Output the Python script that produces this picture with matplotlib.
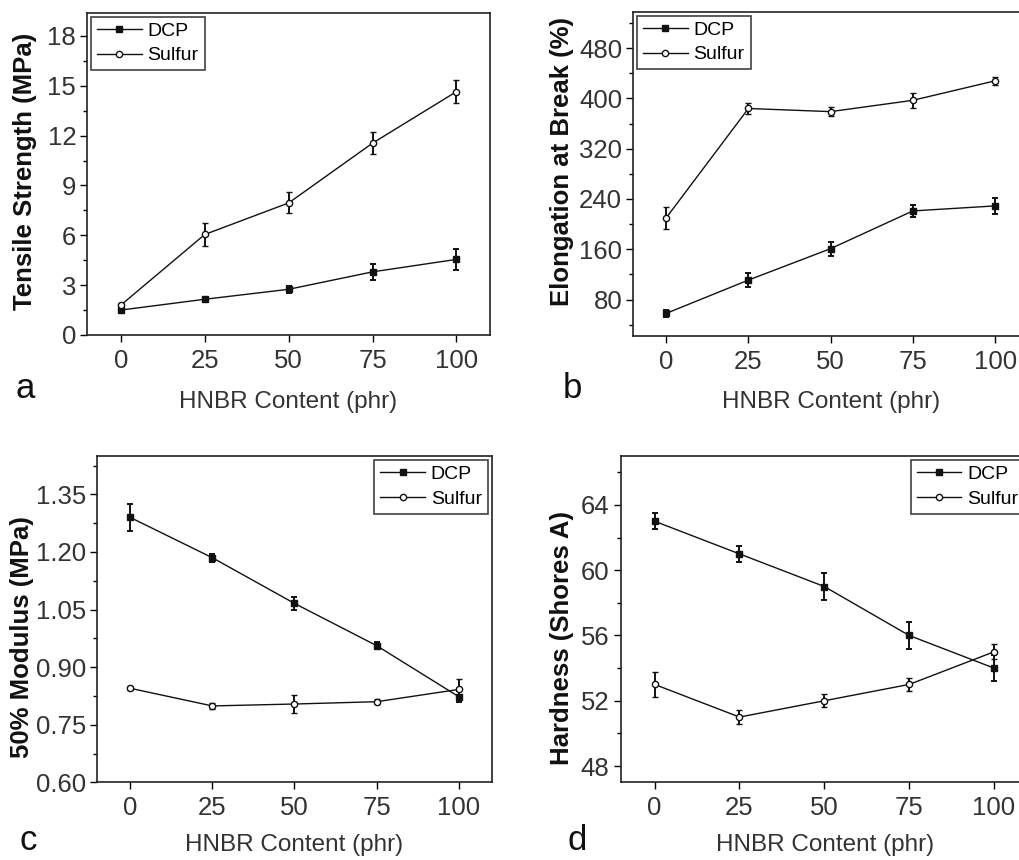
import numpy as np
import matplotlib
matplotlib.use('Agg')
import matplotlib.pyplot as plt
from matplotlib.ticker import MultipleLocator, FormatStrFormatter

HNBR = [0, 25, 50, 75, 100]

# (a) tensile strength, MPa
TS_DCP = [1.5, 2.15, 2.75, 3.8, 4.55]
TS_DCP_ERR = [0.2, 0.15, 0.2, 0.47, 0.64]
TS_SUL = [1.8, 6.05, 7.95, 11.55, 14.65]
TS_SUL_ERR = [0.15, 0.72, 0.63, 0.67, 0.67]

# (b) elongation at break, %
EB_DCP = [58, 111, 161, 221, 229]
EB_DCP_ERR = [6, 11, 11, 10, 13]
EB_SUL = [210, 384, 379, 397, 428]
EB_SUL_ERR = [17, 8, 7, 12, 6]

# (c) 50% modulus, MPa
M50_DCP = [1.29, 1.185, 1.066, 0.956, 0.823]
M50_DCP_ERR = [0.035, 0.01, 0.018, 0.01, 0.015]
M50_SUL = [0.845, 0.799, 0.804, 0.81, 0.842]
M50_SUL_ERR = [0.005, 0.007, 0.024, 0.007, 0.028]

# (d) hardness, Shore A
HD_DCP = [63, 61, 59, 56, 54]
HD_DCP_ERR = [0.5, 0.5, 0.8, 0.8, 0.8]
HD_SUL = [53, 51, 52, 53, 55]
HD_SUL_ERR = [0.77, 0.45, 0.4, 0.4, 0.45]

plt.rcParams['font.family'] = ['Liberation Sans', 'DejaVu Sans']

fig = plt.figure(figsize=(10.19, 8.6), dpi=100)
W, H = 1019.0, 860.0
TXT = '#333333'


def panel(box, dcp, dcp_err, sul, sul_err, ylim, major, minor, fmt, legend_loc, ylabel,
          letter, letter_xy, xlabel_xy, ylabel_xy):
    ax = fig.add_axes(box)
    ax.errorbar(HNBR, dcp, yerr=dcp_err, color='#111111', lw=1.0, marker='s', ms=5,
                mfc='#111111', mec='#111111', capsize=2.5, elinewidth=1.4, capthick=1.4,
                label='DCP')
    ax.errorbar(HNBR, sul, yerr=sul_err, color='#111111', lw=1.0, marker='o', ms=4.5,
                mfc='white', mec='#111111', mew=1.0, capsize=2.5, elinewidth=1.4,
                capthick=1.4, label='Sulfur')
    ax.set_xlim(-10, 110)
    ax.set_ylim(*ylim)
    ax.set_xticks(HNBR)
    ax.yaxis.set_major_locator(MultipleLocator(major))
    ax.yaxis.set_minor_locator(MultipleLocator(minor))
    ax.yaxis.set_major_formatter(FormatStrFormatter(fmt))
    ax.tick_params(direction='out', length=5, width=1.0, labelsize=18.5, labelcolor=TXT,
                   top=False, right=False, pad=3)
    ax.tick_params(axis='x', pad=5)
    ax.tick_params(which='minor', direction='out', length=3, width=1.0)
    for s in ax.spines.values():
        s.set_linewidth(1.2)
        s.set_color('#222222')
    handles, labels = ax.get_legend_handles_labels()
    handles = [h[0] for h in handles]
    leg = ax.legend(handles, labels, loc=legend_loc, fontsize=14, frameon=True,
                    fancybox=False, edgecolor='#111111', handlelength=2.3,
                    borderaxespad=0.2, labelspacing=0.35, handletextpad=0.3,
                    borderpad=0.3)
    leg.get_frame().set_linewidth(1.2)
    fig.text(ylabel_xy[0] / W, 1 - ylabel_xy[1] / H, ylabel, rotation=90, fontsize=18.5,
             fontweight='bold', color='#111111', ha='center', va='center')
    fig.text(xlabel_xy[0] / W, 1 - xlabel_xy[1] / H, 'HNBR Content (phr)', fontsize=17.5,
             color=TXT, ha='center', va='center')
    fig.text(letter_xy[0] / W, 1 - letter_xy[1] / H, letter, fontsize=25, color='#111111',
             ha='center', va='center')
    return ax


panel([0.0857, 0.6105, 0.3952, 0.3747], TS_DCP, TS_DCP_ERR, TS_SUL, TS_SUL_ERR,
      (0, 19.4), 3, 1.5, '%d', 'upper left', 'Tensile Strength (MPa)',
      'a', (25, 388), (288, 402), (25, 171))

panel([0.6215, 0.6093, 0.3873, 0.3771], EB_DCP, EB_DCP_ERR, EB_SUL, EB_SUL_ERR,
      (22, 538), 80, 40, '%d', 'upper left', 'Elongation at Break (%)',
      'b', (572, 388), (831, 402), (562, 162))

panel([0.0955, 0.0903, 0.387, 0.3795], M50_DCP, M50_DCP_ERR, M50_SUL, M50_SUL_ERR,
      (0.6, 1.45), 0.15, 0.075, '%.2f', 'upper right', '50% Modulus (MPa)',
      'c', (28, 841), (294, 845), (22, 637))

panel([0.6091, 0.0903, 0.3997, 0.3795], HD_DCP, HD_DCP_ERR, HD_SUL, HD_SUL_ERR,
      (47, 67), 4, 2, '%d', 'upper right', 'Hardness (Shores A)',
      'd', (577, 840), (825, 845), (562, 638))

fig.savefig('out.png', dpi=100)
